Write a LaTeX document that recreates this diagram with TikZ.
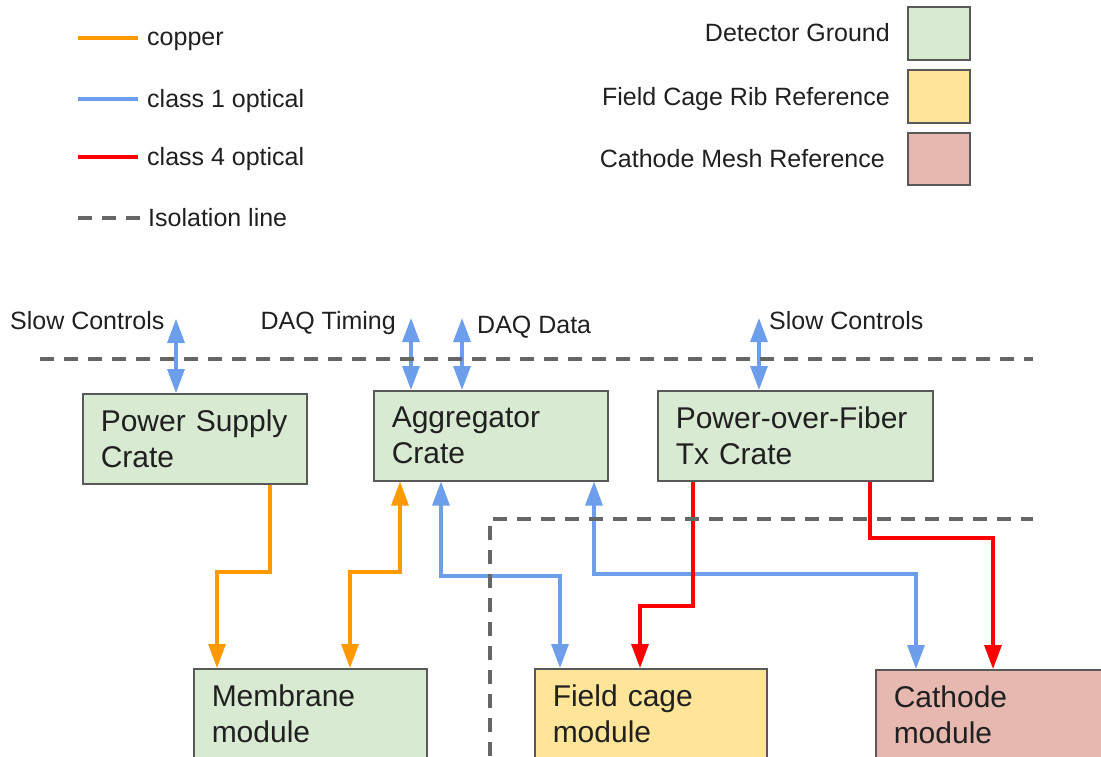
\documentclass[tikz,border=0pt]{standalone}
\usepackage{fontspec}
\setmainfont{Liberation Sans}
\usetikzlibrary{arrows.meta}

\definecolor{copperorange}{HTML}{FF9900}
\definecolor{opticblue}{HTML}{6D9EEB}
\definecolor{opticred}{HTML}{FF0000}
\definecolor{isogray}{HTML}{666666}
\definecolor{gndgreen}{HTML}{D9EAD3}
\definecolor{ribyellow}{HTML}{FFE599}
\definecolor{meshpink}{HTML}{E6B8AF}
\definecolor{boxborder}{HTML}{595959}
\definecolor{inkgray}{HTML}{202020}

\begin{document}
\begin{tikzpicture}[x=1pt, y=-1pt,
		wire/.style={line width=3.2pt},
		cu/.style={wire, draw=copperorange},
		cone/.style={wire, draw=opticblue},
		cfour/.style={wire, draw=opticred},
		isoline/.style={draw=isogray, line width=4pt, dash pattern=on 14pt off 10pt},
		onehead/.style={-{Triangle[length=24pt,width=17pt]}},
		twoheads/.style={{Triangle[length=24pt,width=17pt]}-{Triangle[length=24pt,width=17pt]}},
		lbl/.style={text=inkgray, font=\fontsize{25}{30}\selectfont, inner sep=0pt},
		block/.style={draw=boxborder, line width=1.5pt, anchor=north west, minimum height=90pt,
			inner xsep=18pt, inner ysep=0pt, align=left, text=inkgray, font=\fontsize{30}{36}\selectfont},
		swatch/.style={draw=boxborder, line width=2pt}]
			\useasboundingbox (0,0) rectangle (1101,756);

			\draw[cu, line width=4.5pt] (78,38) -- (138,38);
			\node[lbl, anchor=base west] (lgcu) at (147,45) {copper};
			\draw[cone, line width=4.5pt] (78,99) -- (138,99);
			\node[lbl, anchor=base west] (lgcone) at (147,107) {class 1 optical};
			\draw[cfour, line width=4.5pt] (78,157) -- (138,157);
			\node[lbl, anchor=base west] (lgcfour) at (147,165) {class 4 optical};
			\draw[isoline] (78,218) -- (140,218);
			\node[lbl, anchor=base west] (lgiso) at (148,226) {Isolation line};

			\node[lbl, anchor=base east] (lggnd) at (890,41) {Detector Ground};
			\draw[swatch, fill=gndgreen] (908,7) rectangle (970,60);
			\node[lbl, anchor=base east] (lgrib) at (890,105) {Field Cage Rib Reference};
			\draw[swatch, fill=ribyellow] (908,70) rectangle (970,123);
			\node[lbl, anchor=base east] (lgmesh) at (885,167) {Cathode Mesh Reference};
			\draw[swatch, fill=meshpink] (908,133) rectangle (970,185);

			\node[lbl, anchor=base west] (scleft) at (10,329) {Slow Controls};
			\node[lbl, anchor=base east] (daqt) at (396,329) {DAQ Timing};
			\node[lbl, anchor=base west] (daqd) at (477,333) {DAQ Data};
			\node[lbl, anchor=base west] (scright) at (769,329) {Slow Controls};

			\node[block, fill=gndgreen, text width=188pt] (psc) at (82,393) {Power Supply\\Crate};
			\node[block, fill=gndgreen, text width=198pt] (agg) at (373,390) {Aggregator\\Crate};
			\node[block, fill=gndgreen, text width=239pt] (pof) at (657,390) {Power-over-Fiber\\Tx Crate};
			\node[block, fill=gndgreen, text width=197pt] (mem) at (193,668) {Membrane\\module};
			\node[block, fill=ribyellow, text width=196pt] (fcm) at (534,668) {Field cage\\module};
			\node[block, fill=meshpink, text width=196pt] (cath) at (875,669) {Cathode\\module};

			\coordinate (sctip) at (176,319);
			\coordinate (daqttip) at (411,318);
			\coordinate (daqdtip) at (462,318);
			\coordinate (sctiptwo) at (759,318);
			\draw[cone, twoheads] (sctip) -- (psc.north -| sctip);
			\draw[cone, twoheads] (daqttip) -- (agg.north -| daqttip);
			\draw[cone, twoheads] (daqdtip) -- (agg.north -| daqdtip);
			\draw[cone, twoheads] (sctiptwo) -- (pof.north -| sctiptwo);

			\draw[cu, onehead] (psc.south -| 270,0) -- (270,572) -- (217,572) -- (mem.north -| 217,0);
			\draw[cu, twoheads] (agg.south -| 400,0) -- (400,572) -- (350,572) -- (mem.north -| 350,0);
			\draw[cone, twoheads] (agg.south -| 441,0) -- (441,576) -- (560,576) -- (fcm.north -| 560,0);
			\draw[cone, twoheads] (agg.south -| 594,0) -- (594,574) -- (916,574) -- (cath.north -| 916,0);
			\draw[cfour, onehead] (pof.south -| 693,0) -- (693,606) -- (640,606) -- (fcm.north -| 640,0);
			\draw[cfour, onehead] (pof.south -| 870,0) -- (870,538) -- (993,538) -- (cath.north -| 993,0);

			\draw[isoline] (40,359) -- (1033,359);
			\draw[isoline] (490,756) -- (490,519) -- (1033,519);

		\end{tikzpicture}
\end{document}
